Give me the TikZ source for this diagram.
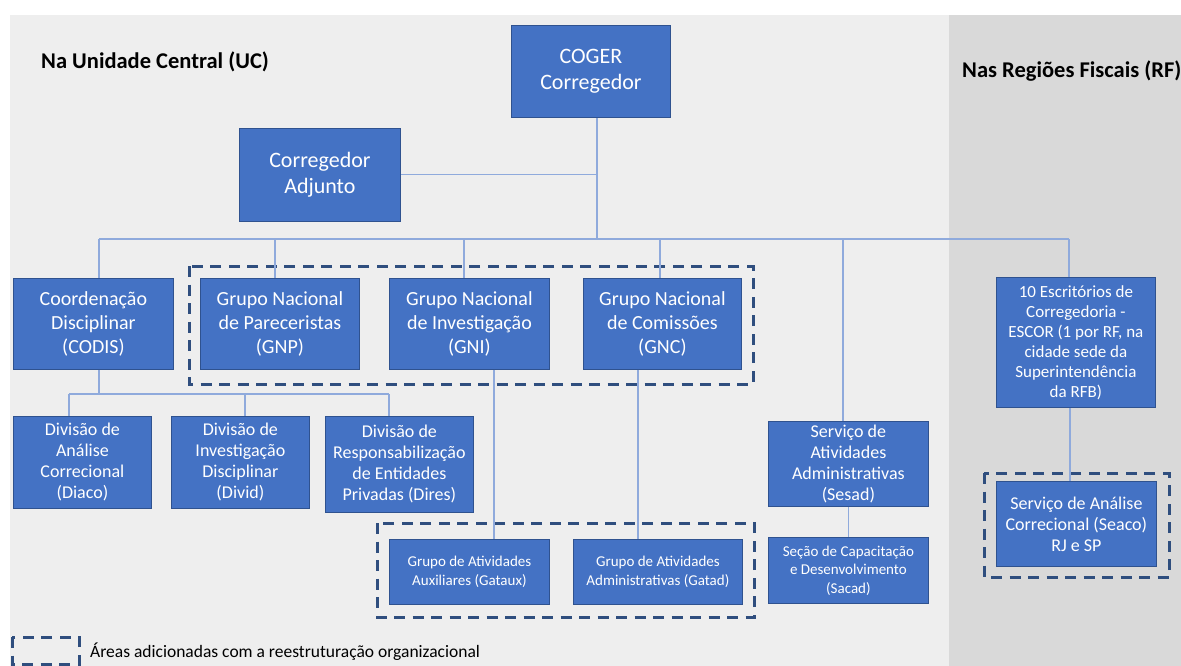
\documentclass[tikz,border=0pt]{standalone}
\usepackage{fontspec}
\setmainfont{Carlito}
\definecolor{boxfill}{HTML}{4472C4}
\definecolor{boxline}{HTML}{2F528F}
\definecolor{conncol}{HTML}{8FAADC}
\definecolor{framecol}{HTML}{2F4E7E}
\definecolor{panelA}{HTML}{EEEEEE}
\definecolor{panelB}{HTML}{D9D9D9}
\begin{document}
\begin{tikzpicture}[x=1pt,y=-1pt,
  orgbox/.style={draw=boxline, line width=0.8pt, fill=boxfill, text=white,
    align=center, inner sep=0pt, anchor=north west},
  fa/.style={font=\fontsize{22}{26}\selectfont},
  fb/.style={font=\fontsize{20}{24}\selectfont},
  fc/.style={font=\fontsize{18}{21}\selectfont},
  fd/.style={font=\fontsize{17}{20}\selectfont},
  fe/.style={font=\fontsize{15}{18.5}\selectfont},
  conn/.style={draw=conncol, line width=1.2pt},
  grpframe/.style={draw=framecol, line width=3pt, dash pattern=on 11pt off 7.5pt},
  heading/.style={font=\bfseries\fontsize{22.5}{26}\selectfont, text=black, inner sep=0pt, anchor=base west}
]
\useasboundingbox (0,0) rectangle (1181,666);
\clip (0,0) rectangle (1181,666);
% background
\fill[white] (0,0) rectangle (1181,666);
\fill[panelA] (9.6,15) rectangle (949,666);
\fill[panelB] (949,15) rectangle (1181,666);

% headings
\node[heading] (uc) at (41,69) {Na Unidade Central (UC)};
\node[heading] (rf) at (962,78) {Nas Regiões Fiscais (RF)};

% group frames
\draw[grpframe] (189,266) rectangle (753,384);
\draw[grpframe] (377,523) rectangle (754,617);
\draw[grpframe] (984,473) rectangle (1169,577);
\draw[grpframe] (12,637) rectangle (79,664);
\node[font=\fontsize{17.5}{21}\selectfont, inner sep=0pt, anchor=base west] (leg) at (90,657) {Áreas adicionadas com a reestruturação organizacional};

% boxes
\node[orgbox, fa, minimum width=159pt, minimum height=92pt] (coger) at (511,25) {COGER\\Corregedor};
\node[orgbox, fa, minimum width=161pt, minimum height=93pt] (adj) at (239,128) {Corregedor\\Adjunto};

\node[orgbox, fb, minimum width=160pt, minimum height=91pt] (codis) at (13,278) {Coordenação\\Disciplinar\\(CODIS)};
\node[orgbox, fb, minimum width=159pt, minimum height=91pt] (gnp) at (200,278) {Grupo Nacional\\de Pareceristas\\(GNP)};
\node[orgbox, fb, minimum width=160pt, minimum height=91pt] (gni) at (389,278) {Grupo Nacional\\de Investigação\\(GNI)};
\node[orgbox, fb, minimum width=158pt, minimum height=91pt] (gnc) at (583,278) {Grupo Nacional\\de Comissões\\(GNC)};
\node[orgbox, fd, minimum width=159pt, minimum height=130pt] (escor) at (996,277) {10 Escritórios de\\Corregedoria -\\ESCOR (1 por RF, na\\cidade sede da\\Superintendência\\da RFB)};

\node[orgbox, fc, minimum width=138pt, minimum height=92pt] (diaco) at (13,416) {Divisão de\\Análise\\Correcional\\(Diaco)};
\node[orgbox, fc, minimum width=138pt, minimum height=92pt] (divid) at (171,416) {Divisão de\\Investigação\\Disciplinar\\(Divid)};
\node[orgbox, fc, minimum width=148pt, minimum height=96pt] (dires) at (325,416) {Divisão de\\Responsabilização\\de Entidades\\Privadas (Dires)};

\node[orgbox, fc, minimum width=160pt, minimum height=85pt] (sesad) at (768,421) {Serviço de\\Atividades\\Administrativas\\(Sesad)};
\node[orgbox, fe, minimum width=160pt, minimum height=66pt] (sacad) at (768,537) {Seção de Capacitação\\e Desenvolvimento\\(Sacad)};

\node[orgbox, fe, minimum width=160pt, minimum height=65pt] (gataux) at (389,539) {Grupo de Atividades\\Auxiliares (Gataux)};
\node[orgbox, fe, minimum width=169pt, minimum height=65pt] (gatad) at (573,539) {Grupo de Atividades\\Administrativas (Gatad)};

\node[orgbox, fc, minimum width=160pt, minimum height=85pt] (seaco) at (996,481) {Serviço de Análise\\Correcional (Seaco)\\RJ e SP};

% connectors
\coordinate (jtop) at (597,239);
\coordinate (jcodis) at (99,239);
\coordinate (jgnp) at (275,239);
\coordinate (jgni) at (464,239);
\coordinate (jgnc) at (660,239);
\coordinate (jsesad) at (843,239);
\coordinate (jescor) at (1069,239);
\draw[conn] (coger.south -| jtop) -- (jtop);
\draw[conn] (adj.east) -- (adj.east -| jtop);
\draw[conn] (jcodis) -- (jescor);
\draw[conn] (jcodis) -- (codis.north -| jcodis);
\draw[conn] (jgnp) -- (gnp.north -| jgnp);
\draw[conn] (jgni) -- (gni.north -| jgni);
\draw[conn] (jgnc) -- (gnc.north -| jgnc);
\draw[conn] (jsesad) -- (sesad.north -| jsesad);
\draw[conn] (jescor) -- (escor.north -| jescor);

\coordinate (sub) at (99,394);
\coordinate (sdiaco) at (69,394);
\coordinate (sdivid) at (245,394);
\coordinate (sdires) at (389,394);
\draw[conn] (codis.south -| sub) -- (sub);
\draw[conn] (sdiaco) -- (sdires);
\draw[conn] (sdiaco) -- (diaco.north -| sdiaco);
\draw[conn] (sdivid) -- (divid.north -| sdivid);
\draw[conn] (sdires) -- (dires.north -| sdires);

\coordinate (xgat) at (494,0);
\coordinate (xgad) at (638,0);
\coordinate (xsea) at (1070,0);
\draw[conn] (gni.south -| xgat) -- (gataux.north -| xgat);
\draw[conn] (gnc.south -| xgad) -- (gatad.north -| xgad);
\draw[conn] (sesad.south) -- (sacad.north);
\draw[conn] (escor.south -| xsea) -- (seaco.north -| xsea);
\end{tikzpicture}
\end{document}
